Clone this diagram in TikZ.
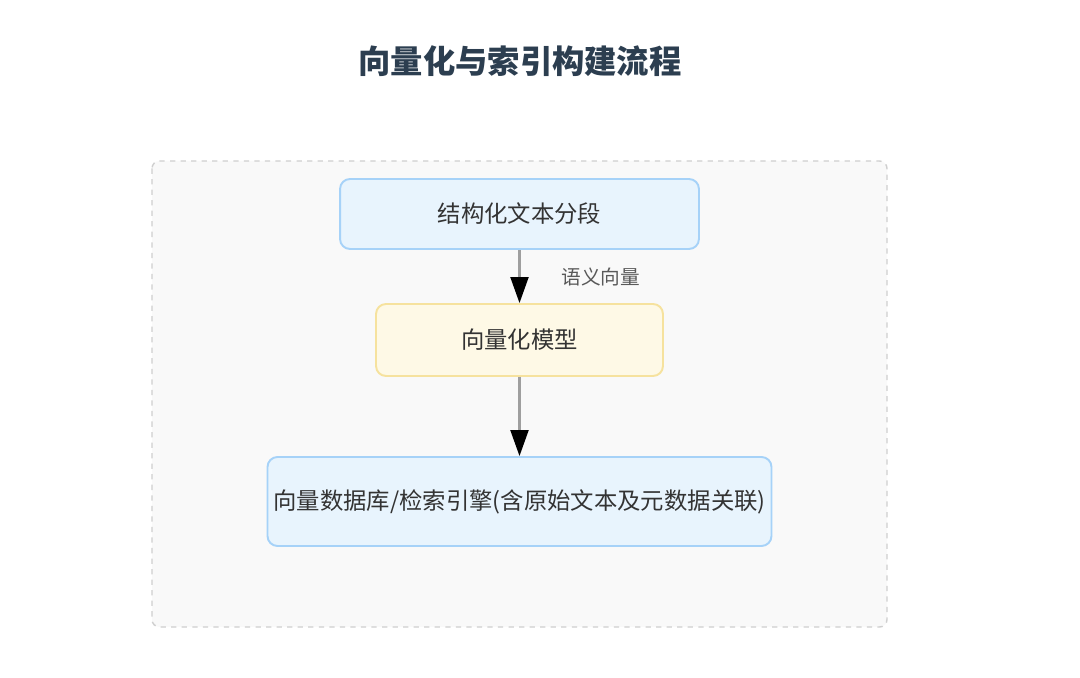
\documentclass[tikz,border=0pt]{standalone}
\usepackage{fontspec}
\setmainfont{Noto Sans CJK SC}
\usetikzlibrary{arrows.meta}

\definecolor{boxblue}{HTML}{E8F4FD}
\definecolor{lineblue}{HTML}{A6D2F8}
\definecolor{boxyellow}{HTML}{FEF9E6}
\definecolor{lineyellow}{HTML}{F6E29E}
\definecolor{framefill}{HTML}{F9F9F9}
\definecolor{frameline}{HTML}{CFCFCF}
\definecolor{titlecol}{HTML}{2C3E50}
\definecolor{textcol}{HTML}{333333}

\begin{document}
\begin{tikzpicture}[
  x=0.02cm,
  y=-0.02cm,
  stage/.style={draw, rounded corners=0.2cm, line width=1.1pt, align=center,
    font=\fontsize{13.3}{15}\selectfont, text=textcol},
  bluestage/.style={stage, fill=boxblue, draw=lineblue},
  yellowstage/.style={stage, fill=boxyellow, draw=lineyellow},
  flow/.style={draw=gray!75, line width=1.2pt,
    -{Triangle[length=0.52cm, width=0.36cm, black]}},
  flowlabel/.style={font=\fontsize{11.2}{13}\selectfont, text=black!65}
]

% White background
\fill[white] (0,0) rectangle (1080,678);
\useasboundingbox (0,0) rectangle (1080,678);

% Title
\node[font=\fontsize{18.4}{22}\selectfont\bfseries, text=titlecol] (title) at (520,61) {向量化与索引构建流程};

% Frame
\draw[fill=framefill, draw=frameline, dashed, line width=0.8pt, rounded corners=0.15cm]
  (152,161) rectangle (887,627);

% Stages
\node[bluestage, minimum width=7.18cm, minimum height=1.4cm] (segment) at (519.5,214) {结构化文本分段};
\node[yellowstage, minimum width=5.74cm, minimum height=1.44cm] (model) at (519.5,340) {向量化模型};
\node[bluestage, minimum width=10.06cm, minimum height=1.78cm] (store) at (519.5,501.5) {向量数据库/检索引擎(含原始文本及元数据关联)};

% Connectors
\draw[flow] (segment) -- node[flowlabel, anchor=west, xshift=0.7cm] {语义向量} (model);
\draw[flow] (model) -- (store);

\end{tikzpicture}
\end{document}
